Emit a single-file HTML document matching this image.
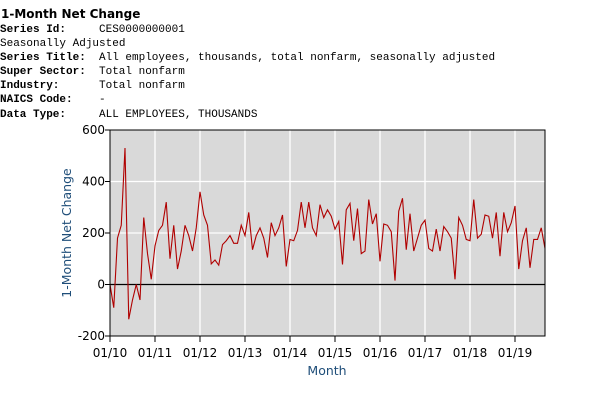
<!DOCTYPE html>
<html><head><meta charset="utf-8"><style>
body{margin:0;width:603px;height:411px;background:#fff;overflow:hidden;position:relative;font-family:"DejaVu Sans","Liberation Sans",sans-serif}
.t{position:absolute;left:1px;top:7px;font-weight:bold;font-size:12px}
.meta{position:absolute;left:0;top:23px;font-family:"Liberation Mono",monospace;font-size:11px;line-height:14.1px;white-space:pre}
.meta b{display:inline-block;width:99px}
svg{position:absolute;left:0;top:0}
</style></head><body>
<div class="t">1-Month Net Change</div>
<div class="meta"><b>Series Id:</b>CES0000000001
Seasonally Adjusted
<b>Series Title:</b>All employees, thousands, total nonfarm, seasonally adjusted
<b>Super Sector:</b>Total nonfarm
<b>Industry:</b>Total nonfarm
<b>NAICS Code:</b>-
<b>Data Type:</b>ALL EMPLOYEES, THOUSANDS</div>
<svg id="c" width="603" height="411"></svg>
<script>
const values=[0,-90,180,230,530,-135,-60,0,-60,260,120,20,150,210,230,320,100,230,60,130,230,190,130,220,360,270,230,80,95,75,155,170,190,160,160,230,190,280,135,190,220,180,105,240,190,220,270,70,175,170,210,320,220,320,220,190,310,260,290,265,215,245,78,290,315,170,295,120,130,330,235,275,90,235,230,205,15,285,335,135,275,130,180,230,250,140,130,215,130,225,205,180,20,260,230,175,170,330,180,195,270,265,180,280,110,280,205,240,305,60,170,220,65,175,175,220,140];
const yTicks=[-200,0,200,400,600];
const xLabels=["01/10","01/11","01/12","01/13","01/14","01/15","01/16","01/17","01/18","01/19"];
const L=110,R=545,T=130,B=336;
const ns="http://www.w3.org/2000/svg",svg=document.getElementById('c');
const y=v=>B-(v+200)/800*(B-T);
const x=i=>L+i*(R-L)/116;
function mk(t,a,p){const e=document.createElementNS(ns,t);for(const k in a)e.setAttribute(k,a[k]);(p||svg).appendChild(e);return e;}
const bg=mk('rect',{x:L,y:T,width:R-L,height:B-T,fill:'#d9d9d9'});


yTicks.forEach(v=>{
 if(v>-200&&v<600&&v!==0){const g=mk('line',{x1:L,x2:R,y1:y(v),y2:y(v),stroke:'#fff','stroke-width':1.3});
 
 }
 mk('line',{x1:L-5,x2:L,y1:y(v),y2:y(v),stroke:'#000'});
 const t=mk('text',{x:L-5,y:y(v)+4,'text-anchor':'end','font-size':12});t.textContent=v;
 
 
});
xLabels.forEach((s,k)=>{
 const xx=x(k*12);
 if(k>0){const g=mk('line',{x1:xx,x2:xx,y1:T,y2:B,stroke:'#fff','stroke-width':1.3});
 
 }
 mk('line',{x1:xx,x2:xx,y1:B,y2:B+6,stroke:'#000'});
 const t=mk('text',{x:xx,y:357,'text-anchor':'middle','font-size':12});t.textContent=s;
 
 
});
const z=mk('line',{x1:L,x2:R,y1:y(0),y2:y(0),stroke:'#000','stroke-width':1.2});


const p=mk('polyline',{points:values.map((v,i)=>x(i)+','+y(v)).join(' '),fill:'none',stroke:'#b00000','stroke-width':1.1});


const f=mk('rect',{x:L,y:T,width:R-L,height:B-T,fill:'none',stroke:'#000'});


const yt=mk('text',{x:0,y:0,transform:'translate(71,233) rotate(-90)','text-anchor':'middle','font-size':12.5,fill:'#1f4e79'});yt.textContent='1-Month Net Change';


const xt=mk('text',{x:327,y:375,'text-anchor':'middle','font-size':12.5,fill:'#1f4e79'});xt.textContent='Month';


</script>
</body></html>
